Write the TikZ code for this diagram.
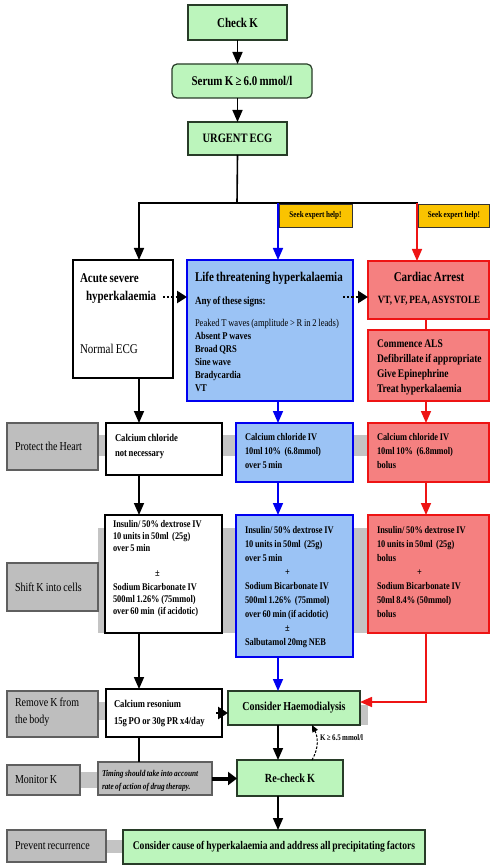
\documentclass[tikz,border=0pt]{standalone}
\usepackage{fontspec}
\setmainfont{Liberation Serif}[FakeStretch=0.82,WordSpace=0.82]
\usetikzlibrary{arrows.meta}
\definecolor{kgreen}{RGB}{188,245,188}
\definecolor{kgreenline}{RGB}{40,60,40}
\definecolor{kblue}{RGB}{155,195,245}
\definecolor{kblueline}{RGB}{0,0,240}
\definecolor{kred}{RGB}{245,128,128}
\definecolor{kredline}{RGB}{238,20,20}
\definecolor{kyellow}{RGB}{250,195,0}
\definecolor{kgrey}{RGB}{190,190,190}
\definecolor{kgreyline}{RGB}{95,95,95}
\definecolor{kband}{RGB}{196,196,196}
\newcommand\fsz[2]{\fontsize{#1}{#2}\selectfont}
\begin{document}
\begin{tikzpicture}[x=1pt,y=-1pt,
  box/.style={draw, inner sep=0pt, outer sep=0pt},
  wh/.style 2 args={minimum width=#1pt, minimum height=#2pt},
  greenbox/.style={box, fill=kgreen, draw=kgreenline, line width=1.2pt, font=\bfseries},
  whitebox/.style={box, fill=white, draw=black, line width=2pt},
  bluebox/.style={box, fill=kblue, draw=kblueline, line width=2pt},
  redbox/.style={box, fill=kred, draw=kredline, line width=2pt},
  greybox/.style={box, fill=kgrey, draw=kgreyline, line width=1.2pt},
  greytext/.style={anchor=west, inner sep=0pt, outer sep=0pt, align=left, font=\fsz{12.2}{17}},
  yellowbox/.style={box, fill=kyellow, draw=black!80, line width=0.8pt, font=\bfseries\fsz{8.7}{9}},
  txt/.style={anchor=north west, inner sep=0pt, outer sep=0pt, align=left},
  line1/.style={inner sep=0pt, outer sep=0pt},
  conn/.style={line width=1.6pt},
  arr/.style={conn, -{Triangle[length=12pt,width=10pt]}},
  bluearr/.style={arr, color=kblueline},
  redarr/.style={arr, color=kredline},
  dotarr/.style={line width=2.6pt, dash pattern=on 2.2pt off 2pt, -{Triangle[length=10pt,width=12pt]}},
  dasharr/.style={line width=1pt, dash pattern=on 2.5pt off 1.5pt, -{Triangle[length=7pt,width=6pt]}},
  thickarr/.style={line width=4pt, -{Triangle[length=9pt,width=13pt]}},
  band/.style={fill=kband}
]
\useasboundingbox (0,0) rectangle (490,866);
\fill[white] (0,0) rectangle (490,866);

% column coordinates
\coordinate (split) at (237,203);
\coordinate (colA) at (139,203);
\coordinate (colB) at (278,203);
\coordinate (colC) at (417,203);
\coordinate (colR) at (426,203);
\coordinate (redturn) at (426,702);
\coordinate (dots1) at (163,297);
\coordinate (dots2) at (343,297);
\coordinate (dots3) at (216,713);
\coordinate (kx) at (312,0);

% grey bands
\fill[band] (98,435) rectangle (368,456);
\fill[band] (98,528) rectangle (368,633);
\fill[band] (98,702) rectangle (106,720);
\fill[band] (360,705) rectangle (368,725);
\fill[band] (80,772) rectangle (98,788);
\fill[band] (106,840) rectangle (123,853);

% top
\node[greenbox, wh={99}{35}, font=\bfseries\fsz{13.4}{15}] (check) at (237.5,22.5) {Check K};
\node[greenbox, wh={140}{34}, rounded corners=5pt, font=\bfseries\fsz{13.3}{15}] (serum) at (242,81) {Serum K ≥ 6.0 mmol/l};
\node[greenbox, wh={99}{33}, font=\bfseries\fsz{12.8}{15}] (ecg) at (237.5,138.5) {URGENT ECG};

% seek help
\node[yellowbox, wh={73}{23}] (seek1) at (315.5,215.5) {Seek expert help!};
\node[yellowbox, wh={71}{23}] (seek2) at (454,215.5) {Seek expert help!};

% row 1
\node[whitebox, wh={100}{118}] (acute) at (123,319) {};
\node[txt, font=\bfseries\fsz{13.4}{18}] (acuteT) at (80,273.3) {Acute severe\\\hspace*{6pt}hyperkalaemia\\[35pt]{\mdseries Normal ECG}};
\node[bluebox, wh={166}{141}] (blue1) at (270,330.5) {};
\node[line1, anchor=base west, font=\bfseries\fsz{13.4}{15}] (b1title) at (195,281.4) {Life threatening hyperkalaemia};
\node[line1, anchor=base west, font=\bfseries\fsz{11}{13}] (b1sub) at (195,304.6) {Any of these signs:};
\node[txt, font=\bfseries\fsz{10.4}{13}] (b1list) at (195,319.4) {{\mdseries Peaked T waves (amplitude > R in 2 leads)}\\Absent P waves\\Broad QRS\\Sine wave\\Bradycardia\\VT};
\node[redbox, line width=2.6pt, wh={121}{58}] (cardiac) at (428.5,290) {};
\node[line1, anchor=base, font=\bfseries\fsz{13.4}{15}] (cardT1) at (429,281.4) {Cardiac Arrest};
\node[line1, anchor=base, font=\bfseries\fsz{11.1}{13}] (cardT2) at (429,303.7) {VT, VF, PEA, ASYSTOLE};
\node[redbox, line width=1.6pt, wh={121}{71}] (als) at (428.5,365.5) {};
\node[txt, font=\bfseries\fsz{11.6}{15}] (alsT) at (377,339.9) {Commence ALS\\Defibrillate if appropriate\\Give Epinephrine\\Treat hyperkalaemia};

% row 2
\node[greybox, wh={91}{47}] (prot) at (52.5,446.5) {};
\node[greytext] (protT) at (15,446.5) {Protect the Heart};
\node[whitebox, wh={116}{52}] (white2) at (164,449) {};
\node[txt, font=\bfseries\fsz{10.5}{15}] (white2T) at (115,434.3) {Calcium chloride\\not necessary};
\node[bluebox, wh={117}{59}] (blue2) at (294.5,452.5) {};
\node[txt, font=\bfseries\fsz{10.2}{14}] (blue2T) at (245,433.4) {Calcium chloride IV\\10ml 10\%~~(6.8mmol)\\over 5 min};
\node[redbox, wh={121}{59}] (red2) at (428.5,452.5) {};
\node[txt, font=\bfseries\fsz{10.2}{14}] (red2T) at (377,433.4) {Calcium chloride IV\\10ml 10\%~~(6.8mmol)\\bolus};

% row 3
\node[greybox, wh={91}{48}] (shift) at (52.5,587) {};
\node[greytext] (shiftT) at (15,587) {Shift K into cells};
\node[whitebox, wh={117}{118}] (white3) at (163.5,574) {};
\node[txt, font=\bfseries\fsz{10.2}{12.2}] (white3T) at (113,520.4) {Insulin/ 50\% dextrose IV\\10 units in 50ml~~(25g)\\over 5 min\\[12pt]\hspace*{42pt}±\\[2pt]Sodium Bicarbonate IV\\500ml 1.26\%~(75mmol)\\over 60 min~~(if acidotic)};
\node[bluebox, wh={117}{142}] (blue3) at (294.5,586) {};
\node[txt, font=\bfseries\fsz{10.2}{14}] (blue3T) at (245,526.4) {Insulin/ 50\% dextrose IV\\10 units in 50ml~~(25g)\\over 5 min\\\hspace*{40pt}+\\Sodium Bicarbonate IV\\500ml 1.26\%~~(75mmol)\\over 60 min (if acidotic)\\\hspace*{40pt}±\\Salbutamol 20mg NEB};
\node[redbox, wh={121}{118}] (red3) at (428.5,574) {};
\node[txt, font=\bfseries\fsz{10.2}{14}] (red3T) at (377,526.4) {Insulin/ 50\% dextrose IV\\10 units in 50ml~~(25g)\\bolus\\\hspace*{40pt}+\\Sodium Bicarbonate IV\\50ml 8.4\% (50mmol)\\bolus};

% row 4
\node[greybox, wh={91}{46}] (remove) at (52.5,714) {};
\node[greytext] (removeT) at (15,712) {Remove K from\\the body};
\node[whitebox, wh={116}{48}] (white4) at (164,713) {};
\node[txt, font=\bfseries\fsz{10.5}{17}] (white4T) at (114,700.3) {Calcium resonium\\15g PO or 30g PR x4/day};
\node[greenbox, wh={132}{34}, font=\bfseries\fsz{12.2}{15}] (haemo) at (294,708) {Consider Haemodialysis};

% row 5
\node[greybox, wh={73}{30}] (monitor) at (43.5,780) {};
\node[greytext] (monitorT) at (15,780) {Monitor K};
\node[greybox, wh={114}{33}] (timing) at (155,778.5) {};
\node[txt, font=\bfseries\itshape\fsz{8.9}{13.4}] (timingT) at (102,769.9) {Timing should take into account\\rate of action of drug therapy.};
\node[greenbox, wh={106}{36}, font=\bfseries\fsz{12.4}{15}] (recheck) at (290,778) {Re-check K};
\node[line1, anchor=west, font=\bfseries\fsz{8.5}{9}] (klabel) at (320,737.5) {K ≥ 6.5 mmol/l};

% row 6
\node[greybox, wh={99}{32}] (prevent) at (56.5,846) {};
\node[greytext] (preventT) at (15,846) {Prevent recurrence};
\node[greenbox, wh={302}{34}, font=\bfseries\fsz{11.7}{15}] (cause) at (274,847) {Consider cause of hyperkalaemia and address all precipitating factors};

% connectors top
\draw[arr] (check.south) -- (check.south |- serum.north);
\draw[arr] (serum.south -| check.south) -- (ecg.north);
\draw[conn] (ecg.south) -- (split);
\draw[conn, line cap=rect] (colA) -- (colC);
\draw[arr] (colA) -- (acute.north -| colA);
\draw[bluearr] (colB) -- (blue1.north -| colB);
\draw[redarr] (colC) -- (cardiac.north -| colC);
\draw[dotarr] (dots1) -- (blue1.west |- dots1);
\draw[dotarr] (dots2) -- (cardiac.west |- dots2);
\draw[conn, color=kredline] (cardiac.south -| colR) -- (als.north -| colR);

% column arrows
\draw[arr] (acute.south -| colA) -- (white2.north -| colA);
\draw[arr] (white2.south -| colA) -- (white3.north -| colA);
\draw[arr] (white3.south -| colA) -- (white4.north -| colA);
\draw[conn] (white4.south -| colA) -- (timing.north -| colA);
\draw[bluearr] (blue1.south -| colB) -- (blue2.north -| colB);
\draw[bluearr] (blue2.south -| colB) -- (blue3.north -| colB);
\draw[bluearr] (blue3.south -| colB) -- (haemo.north -| colB);
\draw[redarr] (als.south -| colR) -- (red2.north -| colR);
\draw[redarr] (red2.south -| colR) -- (red3.north -| colR);
\draw[redarr] (red3.south -| colR) -- (redturn) -- (haemo.east |- redturn);
\draw[dotarr] (dots3) -- (haemo.west |- dots3);
\draw[arr] (haemo.south -| colB) -- (recheck.north -| colB);
\draw[thickarr] (timing.east) -- (recheck.west |- timing.east);
\draw[dasharr] (recheck.north -| kx) .. controls +(7,-12) and +(6,12) .. (haemo.south -| kx);
\draw[arr] (recheck.south -| colB) -- (cause.north -| colB);
\end{tikzpicture}
\end{document}
